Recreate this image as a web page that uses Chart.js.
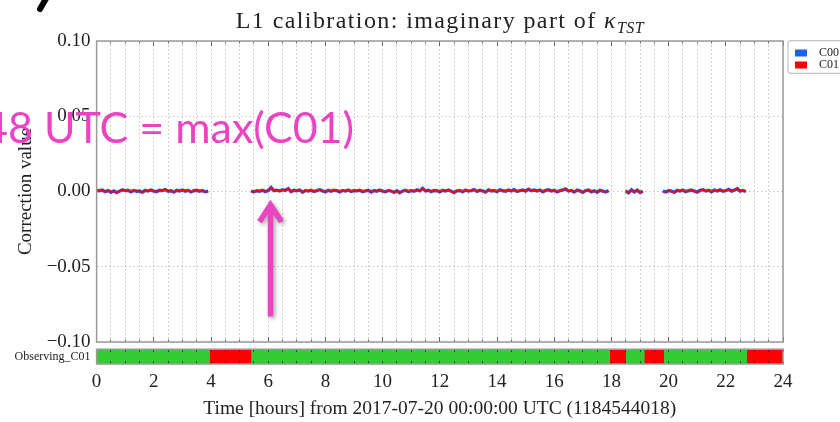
<!DOCTYPE html>
<html>
<head>
<meta charset="utf-8">
<title>L1 calibration: imaginary part of kappa_TST</title>
<script src="https://cdn.jsdelivr.net/npm/chart.js@4.4.1/dist/chart.umd.min.js"></script>
<style>
  html, body { margin:0; padding:0; background:#fff; }
  #stage { position:relative; width:840px; height:422px; overflow:hidden; background:#fff; }
  #mainCanvas { position:absolute; left:0; top:0; }
  #obsCanvas { position:absolute; left:0; top:336px; }
  #plotTitle { position:absolute; left:0; top:8px; width:880px; text-align:center;
    font-family:'Liberation Serif', 'Times New Roman', serif; font-size:24px; line-height:24px;
    letter-spacing:1.4px; color:#222; white-space:nowrap; }
  #plotTitle .kappa { font-style:italic; }
  #plotTitle .sub { font-style:italic; font-size:16px; position:relative; top:5px; letter-spacing:0.5px; }
  #note { position:absolute; left:-17px; top:105px; font-family:Lato, 'Open Sans', sans-serif;
    font-size:43px; line-height:43px; color:#ea44c3; white-space:nowrap; }
  #glyph { position:absolute; left:0; top:0; }
</style>
</head>
<body>
<div id="stage">
  <canvas id="mainCanvas" width="880" height="360"></canvas>
  <canvas id="obsCanvas" width="880" height="86"></canvas>
  <div id="plotTitle">L1 calibration: imaginary part of <span class="kappa">κ</span><span class="sub">TST</span></div>
  <svg id="glyph" width="60" height="16"><line x1="47" y1="-3" x2="40" y2="9" stroke="#000" stroke-width="6" stroke-linecap="round"/></svg>
  <div id="note">48 UTC = max(C01)</div>
</div>
<script>
// ---------------- data ----------------
const seriesNames = ['C00', 'C01'];

// sample times in hours (null values in the series mark gaps)
const hours = [
  0,0.1,0.2,0.3,0.4,0.5,0.6,0.7,0.8,0.9,1,1.1,1.2,1.3,1.4,1.5,1.6,1.7,1.8,1.9,
  2,2.1,2.2,2.3,2.4,2.5,2.6,2.7,2.8,2.9,3,3.1,3.2,3.3,3.4,3.5,3.6,3.7,3.8,3.9,
  4.6,
  5.4,5.5,5.6,5.7,5.8,5.9,6,6.1,6.2,6.3,
  6.4,6.5,6.6,6.7,6.8,6.9,7,7.1,7.2,7.3,
  7.4,7.5,7.6,7.7,7.8,7.9,8,8.1,8.2,8.3,
  8.4,8.5,8.6,8.7,8.8,8.9,9,9.1,9.2,9.3,
  9.4,9.5,9.6,9.7,9.8,9.9,10,10.1,10.2,10.3,
  10.4,10.5,10.6,10.7,10.8,10.9,11,11.1,11.2,11.3,
  11.4,11.5,11.6,11.7,11.8,11.9,12,12.1,12.2,12.3,
  12.4,12.5,12.6,12.7,12.8,12.9,13,13.1,13.2,13.3,
  13.4,13.5,13.6,13.7,13.8,13.9,14,14.1,14.2,14.3,
  14.4,14.5,14.6,14.7,14.8,14.9,15,15.1,15.2,15.3,
  15.4,15.5,15.6,15.7,15.8,15.9,16,16.1,16.2,16.3,
  16.4,16.5,16.6,16.7,16.8,16.9,17,17.1,17.2,17.3,
  17.4,17.5,17.6,17.7,17.8,17.9,
  18.2,
  18.5,18.6,18.7,18.8,18.9,19,19.1,
  19.5,
  19.8,19.9,20,20.1,20.2,20.3,20.4,20.5,20.6,20.7,
  20.8,20.9,21,21.1,21.2,21.3,21.4,21.5,21.6,21.7,
  21.8,21.9,22,22.1,22.2,22.3,22.4,22.5,22.6,22.7
];

const c00 = [
  0.0007,0.0005,0.0009,-0.0001,0.0006,-0.0005,0.0004,-0.0007,0.0002,0.0011,
  0.0006,0.0008,-0.0002,0.0007,0.0002,0.0003,-0.0005,0.0008,0.0003,0.0010,
  0.0003,-0.0001,0.0008,0.0006,0.0013,0.0002,0.0005,-0.0004,0.0008,0.0004,
  0.0009,0.0002,0.0008,-0.0003,0.0005,0.0008,0.0002,0.0006,-0.0002,0.0003,
  null,
  0.0003,-0.0002,0.0005,0.0002,0.0008,-0.0001,0.0006,0.0026,0.0005,0.0009,
  0.0003,0.0011,0.0007,0.0019,-0.0001,0.0008,0.0005,0.0010,-0.0004,0.0007,
  0.0003,0.0008,0.0000,0.0006,0.0012,0.0004,-0.0003,0.0008,0.0002,0.0009,
  0.0005,-0.0002,0.0007,0.0003,0.0010,0.0000,0.0006,0.0004,0.0008,-0.0001,
  0.0004,0.0008,-0.0004,0.0006,0.0002,0.0009,0.0003,-0.0002,0.0007,0.0003,
  -0.0005,0.0005,-0.0008,0.0003,0.0008,-0.0001,0.0006,0.0002,0.0011,0.0004,
  0.0021,0.0004,0.0008,-0.0001,0.0007,0.0005,-0.0003,0.0008,0.0003,0.0010,
  0.0002,-0.0007,0.0004,0.0007,-0.0002,0.0009,0.0003,0.0006,0.0013,0.0001,
  0.0008,0.0004,-0.0004,0.0010,0.0004,0.0007,-0.0001,0.0011,0.0005,0.0002,
  0.0009,0.0004,0.0012,0.0000,0.0006,0.0010,0.0003,0.0015,0.0005,0.0010,
  0.0004,0.0009,-0.0002,0.0007,0.0011,0.0004,0.0008,-0.0003,0.0006,0.0010,
  0.0017,0.0003,0.0007,-0.0004,0.0009,0.0004,-0.0006,0.0006,0.0010,-0.0002,
  0.0005,-0.0005,0.0008,0.0003,-0.0003,0.0006,
  null,
  0.0004,-0.0009,0.0011,-0.0003,0.0009,-0.0007,0.0002,
  null,
  0.0003,-0.0003,0.0006,0.0002,-0.0005,0.0008,0.0003,0.0009,-0.0001,0.0005,
  0.0010,0.0003,-0.0004,0.0007,0.0012,0.0003,0.0008,-0.0002,0.0009,0.0004,
  0.0011,0.0002,0.0006,0.0014,0.0003,0.0009,0.0019,0.0003,0.0007,0.0000
];

const c01 = [
  0.0008,0.0004,0.0010,-0.0002,0.0006,-0.0004,0.0003,-0.0008,0.0002,0.0012,
  0.0005,0.0009,-0.0003,0.0007,0.0001,0.0004,-0.0006,0.0008,0.0002,0.0011,
  0.0003,-0.0002,0.0009,0.0005,0.0014,0.0001,0.0006,-0.0005,0.0008,0.0003,
  0.0010,0.0002,0.0007,-0.0004,0.0005,0.0009,0.0001,0.0006,-0.0003,0.0002,
  null,
  0.0002,-0.0003,0.0005,0.0001,0.0009,-0.0002,0.0006,0.0027,0.0004,0.0010,
  0.0003,0.0012,0.0006,0.0020,-0.0002,0.0008,0.0004,0.0011,-0.0005,0.0007,
  0.0002,0.0009,-0.0001,0.0006,0.0013,0.0003,-0.0004,0.0008,0.0001,0.0010,
  0.0005,-0.0003,0.0007,0.0002,0.0011,-0.0001,0.0006,0.0003,0.0009,-0.0002,
  0.0004,0.0008,-0.0005,0.0006,0.0001,0.0010,0.0003,-0.0003,0.0007,0.0002,
  -0.0006,0.0005,-0.0009,0.0003,0.0008,-0.0002,0.0006,0.0001,0.0012,0.0004,
  0.0022,0.0003,0.0009,-0.0002,0.0007,0.0005,-0.0004,0.0008,0.0002,0.0011,
  0.0001,-0.0008,0.0004,0.0007,-0.0003,0.0009,0.0002,0.0006,0.0014,0.0000,
  0.0008,0.0003,-0.0005,0.0010,0.0004,0.0007,-0.0002,0.0012,0.0005,0.0001,
  0.0009,0.0003,0.0013,-0.0001,0.0006,0.0010,0.0002,0.0016,0.0005,0.0011,
  0.0004,0.0009,-0.0003,0.0007,0.0012,0.0003,0.0008,-0.0004,0.0006,0.0010,
  0.0018,0.0002,0.0007,-0.0005,0.0009,0.0004,-0.0007,0.0006,0.0011,-0.0003,
  0.0005,-0.0006,0.0008,0.0002,-0.0004,0.0006,
  null,
  0.0004,-0.0010,0.0012,-0.0004,0.0009,-0.0008,0.0002,
  null,
  0.0003,-0.0004,0.0006,0.0001,-0.0006,0.0008,0.0002,0.0010,-0.0002,0.0005,
  0.0011,0.0003,-0.0005,0.0007,0.0013,0.0002,0.0008,-0.0003,0.0009,0.0004,
  0.0012,0.0001,0.0006,0.0015,0.0003,0.0009,0.0020,0.0002,0.0007,-0.0001
];

const yTickValues = [-0.10, -0.05, 0.00, 0.05, 0.10];
const xTickLabels = [0, 2, 4, 6, 8, 10, 12, 14, 16, 18, 20, 22, 24];

// observing-state segments (hours)
const obsRowLabel = 'Observing_C01';
const obsStart     = [0,    3.95, 5.42,  17.94, 18.52, 19.15, 19.85, 22.73];
const obsEnd       = [3.95, 5.42, 17.94, 18.52, 19.15, 19.85, 22.73, 24];
const obsObserving = [true, false, true, false, true, false, true, false];

// ---------------- styling / layout ----------------
const SERIF = "'Liberation Serif', 'Times New Roman', serif";
Chart.defaults.font.family = SERIF;
Chart.defaults.color = '#222';
Chart.defaults.animation = false;

const AXIS_W = 96.6;      // width reserved for the y axis block
const PLOT_RIGHT = 783;   // right edge of the plotting frame
const BLUE = '#1f5ef0', RED = '#ff0000', GREEN = '#33cc33', MAGENTA = '#ea44c3';

const framePlugin = {
  id: 'frame',
  afterDraw(chart) {
    const a = chart.chartArea, ctx = chart.ctx;
    ctx.save();
    ctx.strokeStyle = '#9a9a9a';
    ctx.lineWidth = 1.5;
    ctx.strokeRect(a.left, a.top, a.right - a.left, a.bottom - a.top);
    ctx.restore();
  }
};

const legendFramePlugin = {
  id: 'legendFrame',
  afterLayout(chart) {
    const lg = chart.legend;
    if (!lg) return;
    lg.left += 12; lg.right += 8;
    lg.top += 6; lg.bottom += 6;
  },
  afterDraw(chart) {
    const lg = chart.legend, ctx = chart.ctx;
    if (!lg) return;
    const x = lg.left - 7, y = chart.chartArea.top - 0.3, w = 90, h = 32.6, r = 3;
    ctx.save();
    ctx.strokeStyle = '#c4c4c4';
    ctx.lineWidth = 1.2;
    ctx.beginPath();
    ctx.moveTo(x + r, y); ctx.lineTo(x + w - r, y); ctx.arcTo(x + w, y, x + w, y + r, r);
    ctx.lineTo(x + w, y + h - r); ctx.arcTo(x + w, y + h, x + w - r, y + h, r);
    ctx.lineTo(x + r, y + h); ctx.arcTo(x, y + h, x, y + h - r, r);
    ctx.lineTo(x, y + r); ctx.arcTo(x, y, x + r, y, r);
    ctx.stroke();
    ctx.restore();
  }
};

// annotation arrow pointing at the C01 maximum
const arrowPlugin = {
  id: 'arrow',
  afterDraw(chart) {
    const xs = chart.scales.x, ys = chart.scales.y, ctx = chart.ctx;
    const px = xs.getPixelForValue(6.08);
    const yTip = ys.getPixelForValue(-0.0068);
    const yTail = ys.getPixelForValue(-0.083);
    ctx.save();
    ctx.strokeStyle = MAGENTA;
    ctx.lineWidth = 5.5;
    ctx.lineJoin = 'miter';
    ctx.shadowColor = 'rgba(0,0,0,0.35)';
    ctx.shadowBlur = 4; ctx.shadowOffsetX = 2; ctx.shadowOffsetY = 2;
    ctx.beginPath();
    ctx.moveTo(px, yTail); ctx.lineTo(px, yTip + 4);
    ctx.moveTo(px - 11, yTip + 20); ctx.lineTo(px, yTip + 3); ctx.lineTo(px + 11, yTip + 20);
    ctx.stroke();
    ctx.restore();
  }
};

const fmtY = v => {
  if (Math.abs(v) < 1e-9) return '0.00';
  return (v < 0 ? '\u2212' : '') + Math.abs(v).toFixed(2);
};

// ---------------- main chart ----------------
const toPoints = vals => hours.map((h, i) => ({ x: h, y: vals[i] }));

const mainChart = new Chart(document.getElementById('mainCanvas'), {
  type: 'line',
  data: {
    datasets: [
      { label: seriesNames[0], data: toPoints(c00), borderColor: BLUE, backgroundColor: BLUE,
        borderWidth: 3.4, pointRadius: 0, spanGaps: false, tension: 0, order: 1 },
      { label: seriesNames[1], data: toPoints(c01), borderColor: RED, backgroundColor: RED,
        borderWidth: 1.8, pointRadius: 0, spanGaps: false, tension: 0, order: 0 }
    ]
  },
  options: {
    responsive: false,
    animation: false,
    layout: { padding: { left: 0, top: 41, right: 50, bottom: 18 } },
    scales: {
      x: {
        type: 'linear', min: 0, max: 24, position: 'bottom',
        ticks: { display: false, stepSize: 0.5 },
        grid: { color: '#c4c4c4', lineWidth: 1, drawTicks: false },
        border: { display: false, dash: [1.5, 2.5] }
      },
      xTop: {
        type: 'linear', min: 0, max: 24, position: 'top',
        ticks: { display: false, stepSize: 0.5 },
        grid: { color: '#666', lineWidth: 1, drawTicks: false },
        border: {
          display: false,
          dash: c => {
            const a = c.chart.chartArea;
            if (!a || !c.tick) return [];
            const h = a.bottom - a.top;
            const len = (Math.abs(c.tick.value % 2) < 1e-9) ? 5 : 2.5;
            return [len, h - 2 * len, len, 2000];
          }
        }
      },
      y: {
        type: 'linear', min: -0.1, max: 0.1,
        afterBuildTicks: s => { s.ticks = yTickValues.map(v => ({ value: v })); },
        afterFit: s => { s.width = AXIS_W; },
        ticks: { callback: v => fmtY(v), font: { size: 19 }, padding: 6, color: '#222' },
        grid: { color: '#c4c4c4', lineWidth: 1, drawTicks: false },
        border: { display: false, dash: [1.5, 2.5] },
        title: { display: true, text: 'Correction value', font: { size: 19 }, padding: { top: 14.5, bottom: 0 }, color: '#222' }
      }
    },
    plugins: {
      title: { display: false },
      tooltip: { enabled: false },
      legend: {
        position: 'right', align: 'start',
        labels: {
          boxWidth: 12, boxHeight: 7, padding: 0, font: { size: 12 }, color: '#222', textAlign: 'right',
          generateLabels: chart => chart.data.datasets.map((ds, i) => ({
            text: ds.label, fillStyle: ds.backgroundColor, strokeStyle: ds.backgroundColor,
            lineWidth: 0, hidden: false, datasetIndex: i, fontColor: '#222', textAlign: 'right'
          }))
        }
      }
    }
  },
  plugins: [legendFramePlugin, framePlugin, arrowPlugin]
});
// align the plotting frame's right edge with the reference
{
  const diff = PLOT_RIGHT - mainChart.chartArea.right;
  mainChart.options.layout.padding.right -= diff;
  mainChart.update();
}

// ---------------- observing-state strip ----------------
const obsSegments = obsStart.map((s, i) => ({ x: [s, obsEnd[i]], y: obsRowLabel }));

new Chart(document.getElementById('obsCanvas'), {
  type: 'bar',
  data: {
    labels: [obsRowLabel],
    datasets: [
      { label: 'observing', data: obsSegments.filter((d, i) => obsObserving[i]), backgroundColor: GREEN },
      { label: 'not observing', data: obsSegments.filter((d, i) => !obsObserving[i]), backgroundColor: RED }
    ]
  },
  options: {
    indexAxis: 'y',
    responsive: false,
    animation: false,
    datasets: { bar: { grouped: false, barPercentage: 1, categoryPercentage: 1, borderWidth: 0 } },
    layout: { padding: { left: 0, top: 13, right: 880 - PLOT_RIGHT, bottom: 0 } },
    scales: {
      x: {
        type: 'linear', min: 0, max: 24,
        afterFit: s => { s.height = 58; },
        ticks: {
          stepSize: 0.5, autoSkip: false, maxRotation: 0, font: { size: 19 }, padding: 7, color: '#222',
          callback: v => (xTickLabels.some(t => Math.abs(t - v) < 1e-9) ? String(v) : '')
        },
        grid: { color: 'rgba(40,40,40,0.8)', lineWidth: 1, drawTicks: false, z: 1 },
        border: {
          display: false,
          dash: c => {
            const a = c.chart.chartArea;
            if (!a) return [];
            const h = a.bottom - a.top;
            return [3, h - 6, 3, 2000];
          }
        },
        title: { display: true, text: 'Time [hours] from 2017-07-20 00:00:00 UTC (1184544018)',
                 font: { size: 19.5 }, padding: { top: 7, bottom: 1 }, color: '#222' }
      },
      y: {
        type: 'category',
        afterFit: s => { s.width = AXIS_W; },
        ticks: { font: { size: 12 }, padding: 6, color: '#222' },
        grid: { display: false, drawTicks: false },
        border: { display: false }
      }
    },
    plugins: { legend: { display: false }, tooltip: { enabled: false } }
  },
  plugins: [framePlugin]
});
</script>
</body>
</html>
